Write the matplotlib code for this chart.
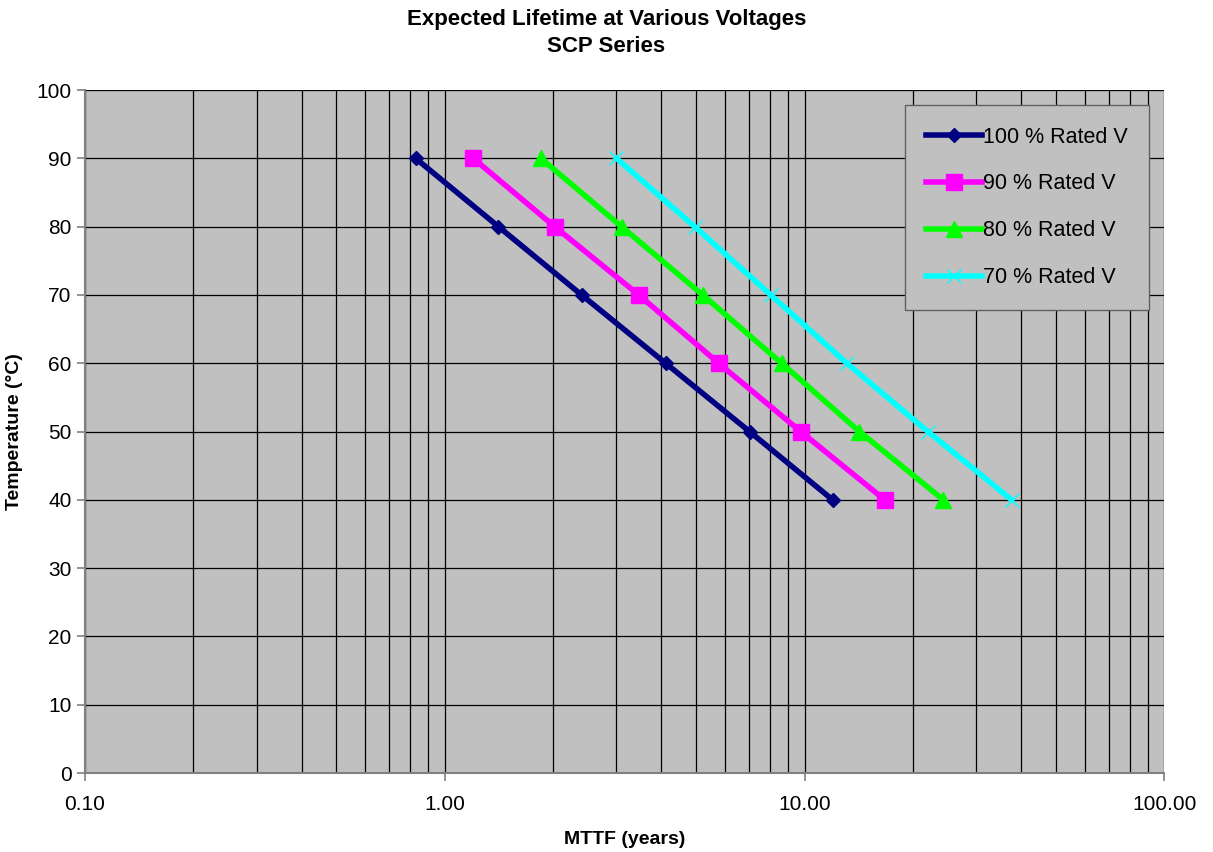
import matplotlib
matplotlib.use("Agg")
import matplotlib.pyplot as plt
from matplotlib.ticker import LogLocator, FixedLocator, FuncFormatter, NullFormatter

plt.rcParams['font.family'] = ['Liberation Sans', 'DejaVu Sans']

# Data
temps = [90, 80, 70, 60, 50, 40]
mttf_100 = [0.83, 1.41, 2.40, 4.11, 7.03, 11.96]
mttf_90 = [1.20, 2.02, 3.46, 5.77, 9.75, 16.7]
mttf_80 = [1.85, 3.10, 5.21, 8.63, 14.2, 24.3]
mttf_70 = [3.0, 4.95, 8.05, 13.1, 22.0, 37.6]
labels = ["100 % Rated V", "90 % Rated V", "80 % Rated V", "70 % Rated V"]

fig = plt.figure(figsize=(12.13, 8.52), dpi=100)
ax = fig.add_axes([0.070, 0.0927, 0.890, 0.8016])
ax.set_facecolor('#C0C0C0')

ax.plot(mttf_100, temps, color='#000080', lw=4, marker='D', ms=7, label=labels[0])
ax.plot(mttf_90, temps, color='#FF00FF', lw=4, marker='s', ms=11, label=labels[1])
ax.plot(mttf_80, temps, color='#00FF00', lw=4, marker='^', ms=11, label=labels[2])
ax.plot(mttf_70, temps, color='#00FFFF', lw=4, marker='x', ms=10, mew=1, label=labels[3])

ax.set_xscale('log')
ax.set_xlim(0.1, 100)
ax.set_ylim(0, 100)
ax.xaxis.set_major_locator(LogLocator(base=10))
ax.xaxis.set_minor_locator(LogLocator(base=10, subs=range(2, 10)))
ax.xaxis.set_major_formatter(FuncFormatter(lambda v, p: f"{v:.2f}"))
ax.xaxis.set_minor_formatter(NullFormatter())
ax.yaxis.set_major_locator(FixedLocator(range(0, 101, 10)))

ax.grid(True, which='both', axis='x', color='black', lw=0.9)
ax.grid(True, which='major', axis='y', color='black', lw=0.9)
ax.set_axisbelow(True)

for s in ['top', 'right']:
    ax.spines[s].set_visible(False)
for s in ['left', 'bottom']:
    ax.spines[s].set_color('#808080')
    ax.spines[s].set_linewidth(1.5)

ax.tick_params(axis='both', which='major', labelsize=15, colors='#808080',
               labelcolor='black', length=6, width=1.2)
ax.tick_params(axis='x', which='minor', length=0)
ax.tick_params(axis='x', pad=10)

ax.set_xlabel("MTTF (years)", fontsize=14, fontweight='bold', labelpad=12)
ax.set_ylabel("Temperature (\u00b0C)", fontsize=14, fontweight='bold', labelpad=10)
fig.suptitle("Expected Lifetime at Various Voltages\nSCP Series", fontsize=16,
             fontweight='bold', y=0.99, linespacing=1.4)

leg = ax.legend(loc='upper right', bbox_to_anchor=(0.986, 0.978), fontsize=15.5,
                frameon=True, fancybox=False, facecolor='#C0C0C0', edgecolor='#606060',
                framealpha=1, borderpad=1.0, labelspacing=1.2, handlelength=2.6,
                handletextpad=0.05, borderaxespad=0)
leg.get_frame().set_linewidth(1.0)

fig.savefig("out.png", dpi=100)
